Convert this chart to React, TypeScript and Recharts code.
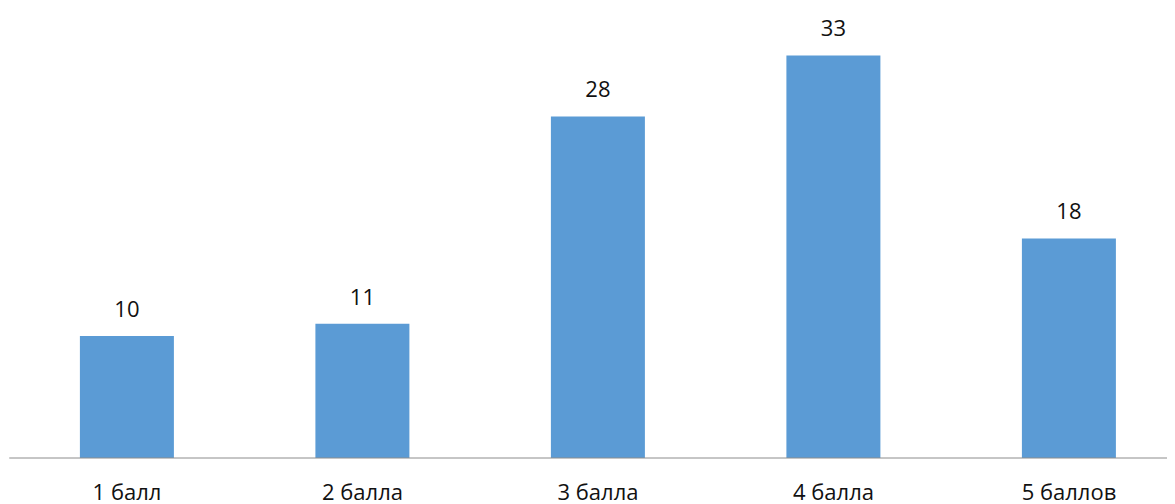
import React from "react";
import { BarChart, Bar, XAxis, YAxis, LabelList } from "recharts";

// Score distribution: number of answers per grade
const grades: string[] = ["1 балл", "2 балла", "3 балла", "4 балла", "5 баллов"];
const counts: number[] = [10, 11, 28, 33, 18];

const rows = grades.map((grade, i) => ({ grade, count: counts[i] }));

const FONT = "'Open Sans', 'Noto Sans', sans-serif";

export default function App() {
  return (
    <div style={{ width: 1167, height: 496, overflow: "hidden", background: "#fff" }}>
      <BarChart
        width={1180}
        height={496}
        data={rows}
        margin={{ top: 23, right: 1.25, bottom: 0, left: 1.25 }}
        barCategoryGap="30%"
      >
        <XAxis
          dataKey="grade"
          axisLine={{ stroke: "#8c8c8c", strokeWidth: 1 }}
          tickLine={false}
          tickMargin={20}
          height={46}
          interval={0}
          tick={{ fill: "#111111", fontSize: 22, fontFamily: FONT }}
        />
        <YAxis hide domain={[0, 35]} />
        <Bar dataKey="count" fill="#5b9bd5" isAnimationActive={false}>
          <LabelList
            dataKey="count"
            position="top"
            offset={19}
            fill="#111111"
            fontSize={22}
            fontFamily={FONT}
          />
        </Bar>
      </BarChart>
    </div>
  );
}
